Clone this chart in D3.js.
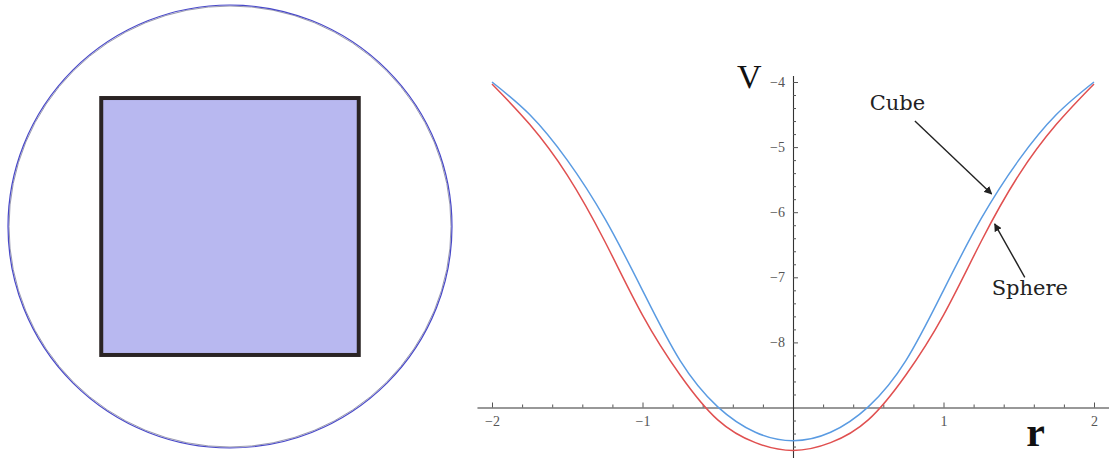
<!DOCTYPE html>
<html>
<head>
<meta charset="utf-8">
<script src="https://cdn.jsdelivr.net/npm/d3@7"></script>
<style>
  body { margin: 0; background: #fff; }
  svg { display: block; }
</style>
</head>
<body>
<svg id="chart" width="1109" height="458"></svg>
<script>
// potential curves
let rGrid   = [-2, -1.75, -1.5, -1.25, -1, -0.75, -0.5, -0.25, 0, 0.25, 0.5, 0.75, 1, 1.25, 1.5, 1.75, 2];
let cubeV   = [-4.0, -4.5, -5.2, -6.1, -7.2, -8.28, -8.99, -9.38, -9.51, -9.38, -8.99, -8.28, -7.2, -6.1, -5.2, -4.5, -4.0];
let sphereV = [-4.03, -4.65, -5.43, -6.45, -7.58, -8.5, -9.19, -9.54, -9.66, -9.54, -9.19, -8.5, -7.58, -6.45, -5.43, -4.65, -4.03];

let xMajor = [-2, -1, 1, 2];
let yMajor = [-4, -5, -6, -7, -8];

// labels with arrows: [text, label r, label V, arrow from r, V, arrow to r, V]
let notes = [
  ["Cube",   0.51, -4.43, 0.81, -4.6, 1.32, -5.72],
  ["Sphere", 1.32, -7.27, 1.54, -7.0, 1.34, -6.18]
];

// left drawing: circle of radius 1 with a square inside
let squareHalf = 0.58;

const svg = d3.select("#chart");

// ---------- left panel ----------
const px = d3.scaleLinear().domain([-1, 1]).range([8, 452]);
const py = d3.scaleLinear().domain([1, -1]).range([5, 448]);

const left = svg.append("g");

left.append("ellipse")
    .attr("cx", px(0)).attr("cy", py(0))
    .attr("rx", px(1) - px(0) - 1).attr("ry", py(-1) - py(0) - 1)
    .attr("fill", "none")
    .attr("stroke", "#9a9ab0")
    .attr("stroke-width", 1);

left.append("ellipse")
    .attr("cx", px(0)).attr("cy", py(0))
    .attr("rx", px(1) - px(0)).attr("ry", py(-1) - py(0))
    .attr("fill", "none")
    .attr("stroke", "#4848c8")
    .attr("stroke-width", 1.2);

left.append("rect")
    .attr("x", px(-squareHalf)).attr("y", py(squareHalf))
    .attr("width", px(squareHalf) - px(-squareHalf))
    .attr("height", py(-squareHalf) - py(squareHalf))
    .attr("fill", "#b8b8f0")
    .attr("stroke", "#2a2424")
    .attr("stroke-width", 4);

// ---------- right panel ----------
const x = d3.scaleLinear().domain([-2, 2]).range([492, 1094]);
const y = d3.scaleLinear().domain([-4, -9]).range([82, 407.5]);

const plot = svg.append("g");

const xAxisScale = d3.scaleLinear().domain([-2.1, 2.1]).range([x(-2.1), x(2.1)]);
const yAxisScale = d3.scaleLinear().domain([-3.9, -9.8]).range([y(-3.9), y(-9.8)]);

const xMinor = d3.range(-2.0, 2.01, 0.2).map(v => +v.toFixed(1)).filter(v => !xMajor.includes(v) && v !== 0);
const yMinor = d3.range(-4.0, -9.61, -0.2).map(v => +v.toFixed(1)).filter(v => !yMajor.includes(v) && v !== -9);

// x axis (ticks point up, labels below)
const gx = plot.append("g").attr("transform", `translate(0,${y(-9)})`);
gx.call(d3.axisBottom(xAxisScale)
      .tickValues(xMajor)
      .tickSizeInner(-5).tickSizeOuter(0).tickPadding(9)
      .tickFormat(d => d3.format("")(d).replace("-", "\u2212")));
gx.append("g").call(d3.axisBottom(xAxisScale).tickValues(xMinor).tickSizeInner(-3).tickSizeOuter(0).tickFormat(""))
  .select(".domain").remove();

// y axis (ticks point right, labels left)
const gy = plot.append("g").attr("transform", `translate(${x(0)},0)`);
gy.call(d3.axisLeft(yAxisScale)
      .tickValues(yMajor)
      .tickSizeInner(-5).tickSizeOuter(0).tickPadding(8)
      .tickFormat(d => d3.format("")(d).replace("-", "\u2212")));
gy.append("g").call(d3.axisLeft(yAxisScale).tickValues(yMinor).tickSizeInner(-3).tickSizeOuter(0).tickFormat(""))
  .select(".domain").remove();

plot.selectAll(".domain").attr("stroke", "#333").attr("stroke-width", 1.1);
plot.selectAll(".tick line").attr("stroke", "#555").attr("stroke-width", 1);
plot.selectAll(".tick text")
    .attr("font-family", "Liberation Serif, serif")
    .attr("font-size", 14)
    .attr("fill", "#555");

// axis names
plot.append("text")
    .attr("x", x(0) - 56).attr("y", y(-4) + 6)
    .attr("font-family", "Liberation Serif, serif")
    .attr("font-size", 34)
    .attr("fill", "#111")
    .text("V");

plot.append("text")
    .attr("x", x(1.55)).attr("y", y(-9) + 38)
    .attr("font-family", "Liberation Serif, serif")
    .attr("font-size", 42)
    .attr("font-weight", "bold")
    .attr("fill", "#111")
    .text("r");

// curves
const line = d3.line()
    .x(d => x(d[0]))
    .y(d => y(d[1]))
    .curve(d3.curveNatural);

plot.append("path")
    .datum(rGrid.map((r, i) => [r, sphereV[i]]))
    .attr("fill", "none")
    .attr("stroke", "#e05050")
    .attr("stroke-width", 1.5)
    .attr("d", line);

plot.append("path")
    .datum(rGrid.map((r, i) => [r, cubeV[i]]))
    .attr("fill", "none")
    .attr("stroke", "#5a9be2")
    .attr("stroke-width", 1.5)
    .attr("d", line);

// annotations
svg.append("defs").append("marker")
    .attr("id", "head")
    .attr("viewBox", "0 0 10 10")
    .attr("refX", 9).attr("refY", 5)
    .attr("markerWidth", 8).attr("markerHeight", 8)
    .attr("markerUnits", "userSpaceOnUse")
    .attr("orient", "auto")
    .append("path")
    .attr("d", "M0,0 L10,5 L0,10 Z")
    .attr("fill", "#222");

const note = plot.selectAll(".note").data(notes).join("g").attr("class", "note");

note.append("line")
    .attr("x1", d => x(d[3])).attr("y1", d => y(d[4]))
    .attr("x2", d => x(d[5])).attr("y2", d => y(d[6]))
    .attr("stroke", "#222")
    .attr("stroke-width", 1.4)
    .attr("marker-end", "url(#head)");

note.append("text")
    .attr("x", d => x(d[1])).attr("y", d => y(d[2]))
    .attr("font-family", "DejaVu Serif, serif")
    .attr("font-size", 21)
    .attr("fill", "#222")
    .text(d => d[0]);
</script>
</body>
</html>
